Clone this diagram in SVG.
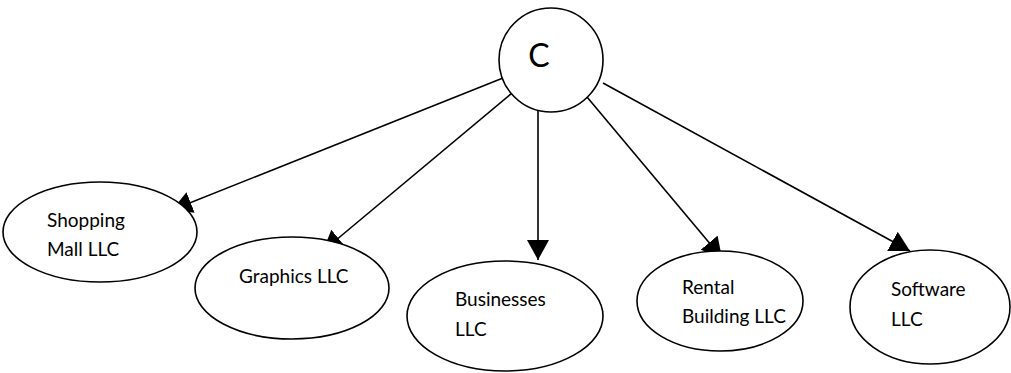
<svg xmlns="http://www.w3.org/2000/svg" width="1011" height="373" viewBox="0 0 1011 373">
<defs>
<style>
.n{fill:#fff;stroke:#000;stroke-width:1.6}
.t{font-family:Lato,"Open Sans",sans-serif;font-size:19px;fill:#000}
.e{stroke:#000;stroke-width:1.6;fill:none;marker-end:url(#ah)}
</style>
<marker id="ah" markerUnits="userSpaceOnUse" markerWidth="22" markerHeight="24" refX="20" refY="11" orient="auto">
<path d="M0,0 L20,11 L0,22 Z" fill="#000"/>
</marker>
</defs>
<g id="edges">
<path class="e" d="M503,78 L172,210"/>
<path class="e" d="M512,93 L323,251"/>
<path class="e" d="M538,111 L538,260"/>
<path class="e" d="M587,97 L722,258"/>
<path class="e" d="M603,83 L910,251"/>
</g>
<g id="c">
<circle class="n" cx="551" cy="60" r="52"/>
<text class="t" x="539" y="67" text-anchor="middle" style="font-size:32px">C</text>
</g>
<g id="shopping">
<ellipse class="n" cx="100" cy="232" rx="97" ry="50"/>
<text class="t" x="47" y="227">Shopping</text>
<text class="t" x="47" y="256">Mall LLC</text>
</g>
<g id="graphics">
<ellipse class="n" cx="292" cy="288" rx="97" ry="51"/>
<text class="t" x="239" y="283">Graphics LLC</text>
</g>
<g id="businesses">
<ellipse class="n" cx="505" cy="316" rx="98" ry="55"/>
<text class="t" x="455" y="306">Businesses</text>
<text class="t" x="455" y="336">LLC</text>
</g>
<g id="rental">
<ellipse class="n" cx="720" cy="301" rx="83" ry="50"/>
<text class="t" x="682" y="294">Rental</text>
<text class="t" x="682" y="323">Building LLC</text>
</g>
<g id="software">
<ellipse class="n" cx="930" cy="307" rx="80" ry="57"/>
<text class="t" x="891" y="296">Software</text>
<text class="t" x="891" y="326">LLC</text>
</g>
</svg>
